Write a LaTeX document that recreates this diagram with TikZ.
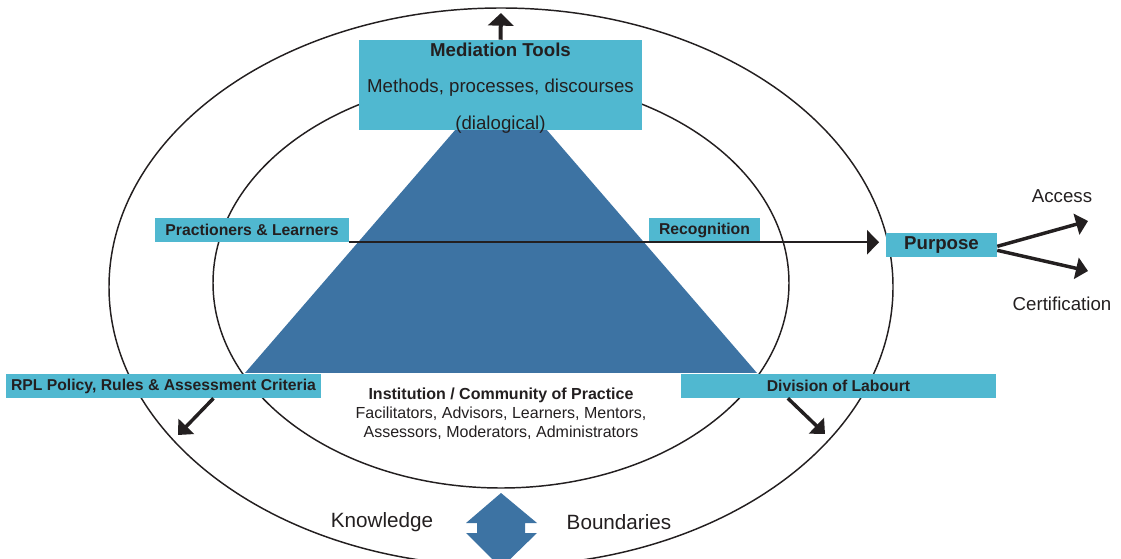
\documentclass[tikz,border=0pt]{standalone}
\usepackage{fontspec}
\setmainfont{Liberation Sans}
\usetikzlibrary{arrows.meta,positioning}
\definecolor{boxcyan}{RGB}{80,184,208}
\definecolor{triblue}{RGB}{61,115,163}
\definecolor{ink}{RGB}{35,31,32}

\begin{document}
\begin{tikzpicture}[x=0.75pt,y=-0.75pt]
  \tikzstyle{every node} = [text=ink, inner sep=0pt];
  \tikzstyle{lbl} = [fill=boxcyan, minimum height=18pt, font=\fontsize{11.8}{14}\selectfont\bfseries];
  \tikzstyle{arr} = [draw=ink, line width=2.6pt, -{Triangle[length=9pt,width=16pt]}];
  \useasboundingbox (0,0) rectangle (1121,559);
  % the two rings
  \foreach \cy/\rx/\ry in {287/392/279, 283/288/205}{
    \draw[ink, line width=1.1pt] (501,\cy) ellipse [x radius=\rx, y radius=\ry];
  }
  % activity triangle
  \fill[triblue] (501,77) -- (245,373) -- (757,373) -- cycle;
  % knowledge / boundaries marker
  \fill[triblue] (501,493) -- (537,523) -- (525,523) -- (525,533) -- (537,533)
    -- (501,568) -- (466,533) -- (477,533) -- (477,523) -- (466,523) -- cycle;

  % labels
  \node[fill=boxcyan, minimum width=212.25pt, minimum height=67.5pt] (tools) at (500.5,85) {};
  \node[align=center, font=\fontsize{14}{27.4}\selectfont] (toolstext) at (500.5,88)
        {\textbf{Mediation Tools}\\Methods, processes, discourses\\(dialogical)};
  \node[lbl, minimum width=145.5pt] (pl) at (252,230) {Practioners \& Learners};
  \node[lbl, minimum width=83.25pt] (rec) at (704.5,230) {Recognition};
  \node[lbl, minimum width=83.25pt, font=\fontsize{14}{16}\selectfont\bfseries] (purpose) at (941.5,245) {Purpose};
  \node[lbl, minimum width=236.25pt] (rpl) at (163.5,386) {RPL Policy, Rules \& Assessment Criteria};
  \node[lbl, minimum width=236.25pt] (div) at (838.5,386) {Division of Labourt};
  \node[align=center, font=\fontsize{12}{14.3}\selectfont] (inst) at (501,414)
        {\textbf{Institution / Community of Practice}\\Facilitators, Advisors, Learners, Mentors,\\Assessors, Moderators, Administrators};
  \node[font=\fontsize{14}{16}\selectfont] (access) at (1062,196) {Access};
  \node[font=\fontsize{14}{16}\selectfont] (cert) at (1062,304) {Certification};
  \node[font=\fontsize{15.5}{18}\selectfont] (know) at (382,522) {Knowledge};
  \node[font=\fontsize{15.5}{18}\selectfont] (bound) at (619,522) {Boundaries};

  % free ends
  \coordinate (up) at (501,13);
  \coordinate (rplend) at (178,435);
  \coordinate (divend) at (825,434);
  \coordinate (accend) at (1088,221);
  \coordinate (certend) at (1088,271);

  % arrows
  \draw[arr, line width=3pt, -{Triangle[length=9.5pt,width=19pt]}] (tools.north) -- (up);
  \draw[arr, line width=1.8pt, -{Triangle[length=9pt,width=18pt]}, shorten >=5pt]
    (pl.south east) -- (pl.south east -| purpose.west);
  \draw[arr] ([xshift=37.5pt]rpl.south) -- (rplend);
  \draw[arr] ([xshift=-38pt]div.south) -- (divend);
  \draw[arr] ([yshift=-1pt]purpose.east) -- (accend);
  \draw[arr] ([yshift=-4pt]purpose.east) -- (certend);
\end{tikzpicture}
\end{document}
